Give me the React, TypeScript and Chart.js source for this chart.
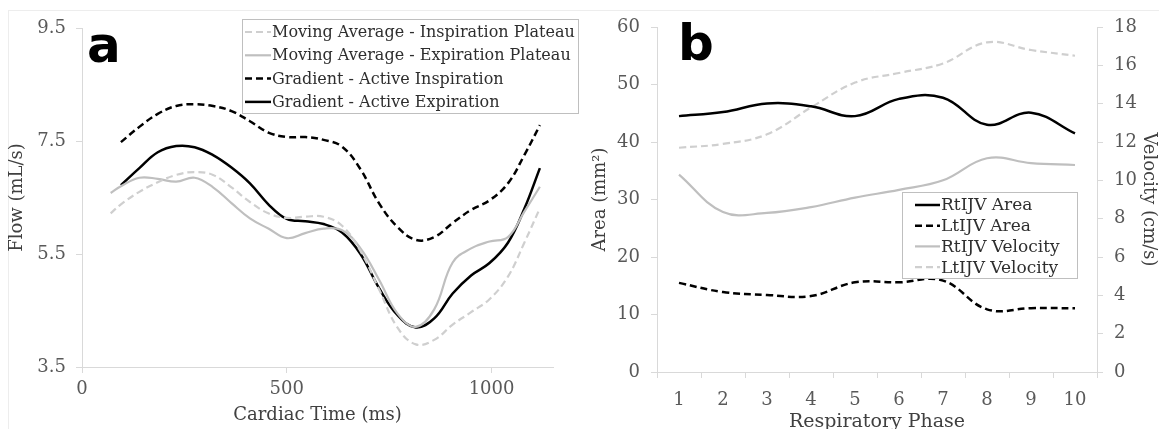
import React, { useEffect, useRef } from "react";
import { Chart, registerables } from "chart.js";
Chart.register(...registerables);

// ---------- Panel a data ----------
const timeMs = [70, 95, 140, 185, 230, 275, 320, 365, 410, 455, 500, 545, 590, 635, 680, 725, 770, 815, 860, 905, 950, 995, 1040, 1080, 1118];
const maInspiration = [6.22, 6.38, 6.6, 6.77, 6.9, 6.95, 6.9, 6.68, 6.42, 6.22, 6.14, 6.16, 6.16, 6.0, 5.55, 4.88, 4.2, 3.9, 3.98, 4.25, 4.47, 4.7, 5.1, 5.7, 6.31];
const maExpiration = [6.58, 6.7, 6.85, 6.83, 6.78, 6.85, 6.68, 6.4, 6.13, 5.95, 5.78, 5.87, 5.95, 5.92, 5.6, 5.05, 4.45, 4.21, 4.52, 5.35, 5.6, 5.72, 5.8, 6.25, 6.69];
const gradInspiration = [null, 7.48, 7.75, 7.98, 8.12, 8.15, 8.12, 8.03, 7.85, 7.65, 7.57, 7.57, 7.52, 7.4, 7.0, 6.4, 5.98, 5.75, 5.8, 6.05, 6.28, 6.45, 6.75, 7.25, 7.78];
const gradExpiration = [null, 6.72, 7.02, 7.3, 7.41, 7.39, 7.25, 7.03, 6.75, 6.38, 6.12, 6.08, 6.03, 5.88, 5.5, 4.9, 4.42, 4.2, 4.36, 4.8, 5.12, 5.34, 5.7, 6.3, 7.02];
const flowTicks = [3.5, 5.5, 7.5, 9.5];
const timeTicks = [0, 500, 1000];

// ---------- Panel b data ----------
const phases = ["1", "2", "3", "4", "5", "6", "7", "8", "9", "10"];
const rtArea = [44.5, 45.2, 46.7, 46.2, 44.5, 47.5, 47.7, 43.0, 45.1, 41.5];
const ltArea = [15.5, 13.9, 13.4, 13.2, 15.6, 15.6, 15.9, 10.9, 11.1, 11.1];
const rtVelocity = [10.3, 8.35, 8.3, 8.6, 9.1, 9.5, 10.0, 11.15, 10.9, 10.8];
const ltVelocity = [11.7, 11.9, 12.4, 13.8, 15.1, 15.6, 16.1, 17.2, 16.8, 16.5];
const areaTicks = [0, 10, 20, 30, 40, 50, 60];
const velocityTicks = [0, 2, 4, 6, 8, 10, 12, 14, 16, 18];

const SERIF = "'DejaVu Serif', serif";
const TICK_COLOR = "#595959";
const TITLE_COLOR = "#404040";
const LEGEND_COLOR = "#2e2e2e";
const AXIS_COLOR = "#d9d9d9";
const BLACK = "#000000";
const GREY = "#bfbfbf";
const LIGHT_GREY = "#cfcfcf";
const DASH = [7, 4];

const boxLegend = {
  id: "boxLegend",
  afterDraw(chart: any, _args: any, opts: any) {
    if (!opts || !opts.show) return;
    const ctx = chart.ctx;
    ctx.save();
    ctx.fillStyle = "#ffffff";
    ctx.fillRect(opts.x, opts.y, opts.w, opts.h);
    ctx.strokeStyle = "#bfbfbf";
    ctx.lineWidth = 1;
    ctx.setLineDash([]);
    ctx.strokeRect(opts.x + 0.5, opts.y + 0.5, opts.w, opts.h);
    chart.data.datasets.forEach((ds: any, i: number) => {
      const cy = opts.y + opts.firstRow + i * opts.rowH;
      ctx.beginPath();
      ctx.setLineDash(ds.borderDash || []);
      ctx.strokeStyle = ds.borderColor;
      ctx.lineWidth = ds.borderWidth;
      ctx.moveTo(opts.x + opts.lineStart, cy);
      ctx.lineTo(opts.x + opts.lineStart + opts.lineLen, cy);
      ctx.stroke();
      ctx.setLineDash([]);
      ctx.fillStyle = LEGEND_COLOR;
      ctx.font = opts.font;
      ctx.textBaseline = "middle";
      ctx.textAlign = "left";
      ctx.fillText(ds.label, opts.x + opts.lineStart + opts.lineLen + 1, cy + 1);
    });
    ctx.restore();
  },
};

const panelDecor = {
  id: "panelDecor",
  beforeDraw(chart: any, _args: any, opts: any) {
    if (!opts) return;
    const ctx = chart.ctx;
    ctx.save();
    ctx.strokeStyle = "#ededed";
    ctx.lineWidth = 1;
    ctx.beginPath();
    ctx.moveTo(opts.frameLeft, 10.5);
    ctx.lineTo(chart.width, 10.5);
    if (opts.drawLeft) {
      ctx.moveTo(opts.frameLeft + 0.5, 10.5);
      ctx.lineTo(opts.frameLeft + 0.5, chart.height);
    }
    ctx.stroke();
    ctx.restore();
  },
  afterDraw(chart: any, _args: any, opts: any) {
    if (!opts || !opts.text) return;
    const ctx = chart.ctx;
    ctx.save();
    ctx.fillStyle = "#000";
    ctx.font = "bold 50px 'DejaVu Sans', sans-serif";
    ctx.textBaseline = "alphabetic";
    ctx.textAlign = "left";
    ctx.fillText(opts.text, opts.x, opts.y);
    ctx.restore();
  },
};

function axisCommon(tickPadding: number) {
  return {
    grid: { drawOnChartArea: false, drawTicks: true, tickLength: 6, color: AXIS_COLOR, lineWidth: 1 },
    border: { color: AXIS_COLOR, width: 1 },
    ticks: { color: TICK_COLOR, font: { family: SERIF, size: 18 }, padding: tickPadding, maxRotation: 0, autoSkip: false },
  };
}

function LeftChart() {
  const ref = useRef<HTMLCanvasElement>(null);
  useEffect(() => {
    if (!ref.current) return;
    const mk = (arr: (number | null)[]) => timeMs.map((t, i) => ({ x: t, y: arr[i] }));
    const chart = new Chart(ref.current, {
      type: "line",
      data: {
        datasets: [
          { label: "Moving Average - Inspiration Plateau", data: mk(maInspiration), borderColor: LIGHT_GREY, borderWidth: 2.2, borderDash: DASH },
          { label: "Moving Average - Expiration Plateau", data: mk(maExpiration), borderColor: GREY, borderWidth: 2.2 },
          { label: "Gradient - Active Inspiration", data: mk(gradInspiration), borderColor: BLACK, borderWidth: 2.5, borderDash: DASH },
          { label: "Gradient - Active Expiration", data: mk(gradExpiration), borderColor: BLACK, borderWidth: 2.5 },
        ] as any,
      },
      options: {
        animation: false,
        responsive: false,
        maintainAspectRatio: false,
        layout: { padding: { top: 28, right: 37, left: 0, bottom: 0 } },
        elements: { point: { radius: 0 }, line: { tension: 0.4 } },
        plugins: {
          legend: { display: false },
          tooltip: { enabled: false },
          boxLegend: { show: true, x: 242, y: 19, w: 336, h: 94, firstRow: 13, rowH: 23.3, lineStart: 3, lineLen: 26, font: `16px ${SERIF}` },
          panelDecor: { text: "a", x: 87, y: 62, frameLeft: 8, drawLeft: true },
        } as any,
        scales: {
          x: {
            type: "linear",
            min: 0,
            max: 1150,
            ...axisCommon(6),
            afterBuildTicks: (s: any) => { s.ticks = timeTicks.map((v) => ({ value: v })); },
            afterFit: (s: any) => { s.height = 62; },
            ticks: { ...axisCommon(6).ticks, callback: (v: any) => String(v) },
            title: { display: true, text: "Cardiac Time (ms)", color: TITLE_COLOR, font: { family: SERIF, size: 18 }, padding: { top: 0, bottom: 3 } },
          },
          y: {
            type: "linear",
            min: 3.5,
            max: 9.5,
            ...axisCommon(10),
            afterBuildTicks: (s: any) => { s.ticks = flowTicks.map((v) => ({ value: v })); },
            afterFit: (s: any) => { s.width = 82; },
            ticks: { ...axisCommon(10).ticks, callback: (v: any) => Number(v).toFixed(1) },
            title: { display: true, text: "Flow (mL/s)", color: TITLE_COLOR, font: { family: SERIF, size: 18 }, padding: { top: 7, bottom: 0 } },
          },
        } as any,
      },
      plugins: [boxLegend, panelDecor],
    });
    return () => chart.destroy();
  }, []);
  return <canvas ref={ref} width={590} height={429} style={{ position: "absolute", left: 0, top: 0 }} />;
}

function RightChart() {
  const ref = useRef<HTMLCanvasElement>(null);
  useEffect(() => {
    if (!ref.current) return;
    const chart = new Chart(ref.current, {
      type: "line",
      data: {
        labels: phases,
        datasets: [
          { label: "RtIJV Area", data: rtArea, borderColor: BLACK, borderWidth: 2.5, yAxisID: "y" },
          { label: "LtIJV Area", data: ltArea, borderColor: BLACK, borderWidth: 2.5, borderDash: DASH, yAxisID: "y" },
          { label: "RtIJV Velocity", data: rtVelocity, borderColor: GREY, borderWidth: 2.2, yAxisID: "y1" },
          { label: "LtIJV Velocity", data: ltVelocity, borderColor: LIGHT_GREY, borderWidth: 2.2, borderDash: DASH, yAxisID: "y1" },
        ] as any,
      },
      options: {
        animation: false,
        responsive: false,
        maintainAspectRatio: false,
        layout: { padding: { top: 27, right: 0, left: 0, bottom: 0 } },
        elements: { point: { radius: 0 }, line: { tension: 0.4 } },
        plugins: {
          legend: { display: false },
          tooltip: { enabled: false },
          boxLegend: { show: true, x: 312, y: 192, w: 175, h: 86, firstRow: 13, rowH: 20.7, lineStart: 13, lineLen: 25, font: `17px ${SERIF}` },
          panelDecor: { text: "b", x: 88, y: 60, frameLeft: 0, drawLeft: false },
        } as any,
        scales: {
          x: {
            type: "category",
            offset: true,
            ...axisCommon(12),
            grid: { ...axisCommon(12).grid, offset: true },
            afterFit: (s: any) => { s.height = 57; },
            title: { display: true, text: "Respiratory Phase", color: TITLE_COLOR, font: { family: SERIF, size: 19 }, padding: { top: 0, bottom: -4 } },
          },
          y: {
            type: "linear",
            position: "left",
            min: 0,
            max: 60,
            ...axisCommon(11),
            afterBuildTicks: (s: any) => { s.ticks = areaTicks.map((v) => ({ value: v })); },
            afterFit: (s: any) => { s.width = 67; },
            title: { display: true, text: "Area (mm²)", color: TITLE_COLOR, font: { family: SERIF, size: 18 }, padding: { top: 0, bottom: 0 } },
          },
          y1: {
            type: "linear",
            position: "right",
            min: 0,
            max: 18,
            ...axisCommon(11),
            afterBuildTicks: (s: any) => { s.ticks = velocityTicks.map((v) => ({ value: v })); },
            afterFit: (s: any) => { s.width = 62; },
            title: { display: true, text: "Velocity (cm/s)", color: TITLE_COLOR, font: { family: SERIF, size: 18 }, padding: { top: 0, bottom: 0 } },
          },
        } as any,
      },
      plugins: [boxLegend, panelDecor],
    });
    return () => chart.destroy();
  }, []);
  return <canvas ref={ref} width={569} height={429} style={{ position: "absolute", left: 590, top: 0 }} />;
}

export default function App() {
  return (
    <div style={{ position: "absolute", left: 0, top: 0, width: 1159, height: 429, background: "#fff", overflow: "hidden" }}>
      <LeftChart />
      <RightChart />
    </div>
  );
}
